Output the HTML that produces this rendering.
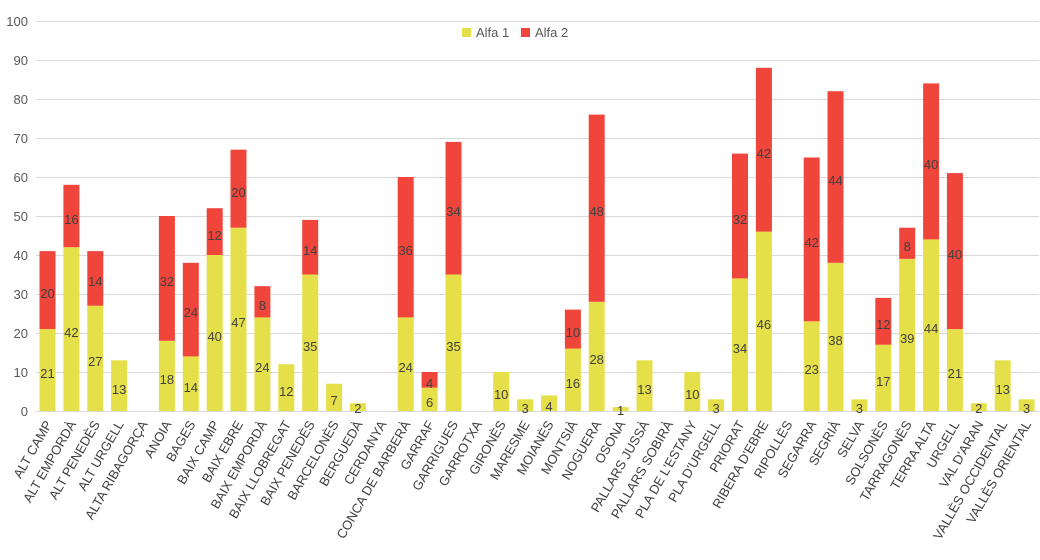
<!DOCTYPE html>
<html><head><meta charset="utf-8"><style>
html,body{margin:0;padding:0;background:#fff}
svg{display:block;font-family:"Liberation Sans",sans-serif}
.y{fill:#e5e04a}.r{fill:#f0453a}
.v{font-size:13px;fill:#404040;text-anchor:middle}
.c{font-size:13px;fill:#404040;text-anchor:end}
.t{font-size:13px;fill:#595959;text-anchor:end}
</style></head><body>
<svg width="1040" height="560" viewBox="0 0 1040 560">
<g stroke="#d9d9d9" stroke-width="1">
<line x1="36" x2="1039" y1="21.5" y2="21.5"/><line x1="36" x2="1039" y1="60.5" y2="60.5"/><line x1="36" x2="1039" y1="99.5" y2="99.5"/><line x1="36" x2="1039" y1="138.5" y2="138.5"/><line x1="36" x2="1039" y1="177.5" y2="177.5"/><line x1="36" x2="1039" y1="216.5" y2="216.5"/><line x1="36" x2="1039" y1="255.5" y2="255.5"/><line x1="36" x2="1039" y1="294.5" y2="294.5"/><line x1="36" x2="1039" y1="333.5" y2="333.5"/><line x1="36" x2="1039" y1="372.5" y2="372.5"/><line x1="36" x2="1039" y1="411.5" y2="411.5"/>
</g>
<g class="t">
<text x="28" y="26">100</text><text x="28" y="65">90</text><text x="28" y="104">80</text><text x="28" y="143">70</text><text x="28" y="182">60</text><text x="28" y="221">50</text><text x="28" y="260">40</text><text x="28" y="299">30</text><text x="28" y="338">20</text><text x="28" y="377">10</text><text x="28" y="416">0</text>
</g>
<rect class="y" x="462" y="28" width="9" height="9"/><text x="476" y="37" font-size="13" fill="#595959">Alfa 1</text>
<rect class="r" x="521" y="28" width="9" height="9"/><text x="535" y="37" font-size="13" fill="#595959">Alfa 2</text>
<g>
<rect class="y" x="39.5" y="329.1" width="16" height="81.9"/><rect class="r" x="39.5" y="251.1" width="16" height="78"/>
<rect class="y" x="63.4" y="247.2" width="16" height="163.8"/><rect class="r" x="63.4" y="184.8" width="16" height="62.4"/>
<rect class="y" x="87.3" y="305.7" width="16" height="105.3"/><rect class="r" x="87.3" y="251.1" width="16" height="54.6"/>
<rect class="y" x="111.1" y="360.3" width="16" height="50.7"/>
<rect class="y" x="158.9" y="340.8" width="16" height="70.2"/><rect class="r" x="158.9" y="216" width="16" height="124.8"/>
<rect class="y" x="182.8" y="356.4" width="16" height="54.6"/><rect class="r" x="182.8" y="262.8" width="16" height="93.6"/>
<rect class="y" x="206.7" y="255" width="16" height="156"/><rect class="r" x="206.7" y="208.2" width="16" height="46.8"/>
<rect class="y" x="230.5" y="227.7" width="16" height="183.3"/><rect class="r" x="230.5" y="149.7" width="16" height="78"/>
<rect class="y" x="254.4" y="317.4" width="16" height="93.6"/><rect class="r" x="254.4" y="286.2" width="16" height="31.2"/>
<rect class="y" x="278.3" y="364.2" width="16" height="46.8"/>
<rect class="y" x="302.2" y="274.5" width="16" height="136.5"/><rect class="r" x="302.2" y="219.9" width="16" height="54.6"/>
<rect class="y" x="326.1" y="383.7" width="16" height="27.3"/>
<rect class="y" x="349.9" y="403.2" width="16" height="7.8"/>
<rect class="y" x="397.7" y="317.4" width="16" height="93.6"/><rect class="r" x="397.7" y="177" width="16" height="140.4"/>
<rect class="y" x="421.6" y="387.6" width="16" height="23.4"/><rect class="r" x="421.6" y="372" width="16" height="15.6"/>
<rect class="y" x="445.5" y="274.5" width="16" height="136.5"/><rect class="r" x="445.5" y="141.9" width="16" height="132.6"/>
<rect class="y" x="493.2" y="372" width="16" height="39"/>
<rect class="y" x="517.1" y="399.3" width="16" height="11.7"/>
<rect class="y" x="541" y="395.4" width="16" height="15.6"/>
<rect class="y" x="564.9" y="348.6" width="16" height="62.4"/><rect class="r" x="564.9" y="309.6" width="16" height="39"/>
<rect class="y" x="588.7" y="301.8" width="16" height="109.2"/><rect class="r" x="588.7" y="114.6" width="16" height="187.2"/>
<rect class="y" x="612.6" y="407.1" width="16" height="3.9"/>
<rect class="y" x="636.5" y="360.3" width="16" height="50.7"/>
<rect class="y" x="684.3" y="372" width="16" height="39"/>
<rect class="y" x="708.1" y="399.3" width="16" height="11.7"/>
<rect class="y" x="732" y="278.4" width="16" height="132.6"/><rect class="r" x="732" y="153.6" width="16" height="124.8"/>
<rect class="y" x="755.9" y="231.6" width="16" height="179.4"/><rect class="r" x="755.9" y="67.8" width="16" height="163.8"/>
<rect class="y" x="803.7" y="321.3" width="16" height="89.7"/><rect class="r" x="803.7" y="157.5" width="16" height="163.8"/>
<rect class="y" x="827.5" y="262.8" width="16" height="148.2"/><rect class="r" x="827.5" y="91.2" width="16" height="171.6"/>
<rect class="y" x="851.4" y="399.3" width="16" height="11.7"/>
<rect class="y" x="875.3" y="344.7" width="16" height="66.3"/><rect class="r" x="875.3" y="297.9" width="16" height="46.8"/>
<rect class="y" x="899.2" y="258.9" width="16" height="152.1"/><rect class="r" x="899.2" y="227.7" width="16" height="31.2"/>
<rect class="y" x="923.1" y="239.4" width="16" height="171.6"/><rect class="r" x="923.1" y="83.4" width="16" height="156"/>
<rect class="y" x="946.9" y="329.1" width="16" height="81.9"/><rect class="r" x="946.9" y="173.1" width="16" height="156"/>
<rect class="y" x="970.8" y="403.2" width="16" height="7.8"/>
<rect class="y" x="994.7" y="360.3" width="16" height="50.7"/>
<rect class="y" x="1018.6" y="399.3" width="16" height="11.7"/>
</g>
<g class="v">
<text x="47.5" y="378">21</text><text x="47.5" y="298">20</text>
<text x="71.4" y="337">42</text><text x="71.4" y="224">16</text>
<text x="95.3" y="366">27</text><text x="95.3" y="286">14</text>
<text x="119.1" y="394">13</text>
<text x="166.9" y="384">18</text><text x="166.9" y="286">32</text>
<text x="190.8" y="392">14</text><text x="190.8" y="317">24</text>
<text x="214.7" y="341">40</text><text x="214.7" y="240">12</text>
<text x="238.5" y="327">47</text><text x="238.5" y="197">20</text>
<text x="262.4" y="372">24</text><text x="262.4" y="310">8</text>
<text x="286.3" y="396">12</text>
<text x="310.2" y="351">35</text><text x="310.2" y="255">14</text>
<text x="334.1" y="405">7</text>
<text x="357.9" y="413">2</text>
<text x="405.7" y="372">24</text><text x="405.7" y="255">36</text>
<text x="429.6" y="407">6</text><text x="429.6" y="388">4</text>
<text x="453.5" y="351">35</text><text x="453.5" y="216">34</text>
<text x="501.2" y="399">10</text>
<text x="525.1" y="413">3</text>
<text x="549" y="411">4</text>
<text x="572.9" y="388">16</text><text x="572.9" y="337">10</text>
<text x="596.7" y="364">28</text><text x="596.7" y="216">48</text>
<text x="620.6" y="415">1</text>
<text x="644.5" y="394">13</text>
<text x="692.3" y="399">10</text>
<text x="716.1" y="413">3</text>
<text x="740" y="353">34</text><text x="740" y="224">32</text>
<text x="763.9" y="329">46</text><text x="763.9" y="158">42</text>
<text x="811.7" y="374">23</text><text x="811.7" y="247">42</text>
<text x="835.5" y="345">38</text><text x="835.5" y="185">44</text>
<text x="859.4" y="413">3</text>
<text x="883.3" y="386">17</text><text x="883.3" y="329">12</text>
<text x="907.2" y="343">39</text><text x="907.2" y="251">8</text>
<text x="931.1" y="333">44</text><text x="931.1" y="169">40</text>
<text x="954.9" y="378">21</text><text x="954.9" y="259">40</text>
<text x="978.8" y="413">2</text>
<text x="1002.7" y="394">13</text>
<text x="1026.6" y="413">3</text>
</g>
<g class="c">
<text transform="translate(52.5,424) rotate(-60)">ALT CAMP</text>
<text transform="translate(76.4,424) rotate(-60)">ALT EMPORDÀ</text>
<text transform="translate(100.3,424) rotate(-60)">ALT PENEDÈS</text>
<text transform="translate(124.1,424) rotate(-60)">ALT URGELL</text>
<text transform="translate(148,424) rotate(-60)">ALTA RIBAGORÇA</text>
<text transform="translate(171.9,424) rotate(-60)">ANOIA</text>
<text transform="translate(195.8,424) rotate(-60)">BAGES</text>
<text transform="translate(219.7,424) rotate(-60)">BAIX CAMP</text>
<text transform="translate(243.5,424) rotate(-60)">BAIX EBRE</text>
<text transform="translate(267.4,424) rotate(-60)">BAIX EMPORDÀ</text>
<text transform="translate(291.3,424) rotate(-60)">BAIX LLOBREGAT</text>
<text transform="translate(315.2,424) rotate(-60)">BAIX PENEDÈS</text>
<text transform="translate(339.1,424) rotate(-60)">BARCELONÈS</text>
<text transform="translate(362.9,424) rotate(-60)">BERGUEDÀ</text>
<text transform="translate(386.8,424) rotate(-60)">CERDANYA</text>
<text transform="translate(410.7,424) rotate(-60)">CONCA DE BARBERÀ</text>
<text transform="translate(434.6,424) rotate(-60)">GARRAF</text>
<text transform="translate(458.5,424) rotate(-60)">GARRIGUES</text>
<text transform="translate(482.3,424) rotate(-60)">GARROTXA</text>
<text transform="translate(506.2,424) rotate(-60)">GIRONÈS</text>
<text transform="translate(530.1,424) rotate(-60)">MARESME</text>
<text transform="translate(554,424) rotate(-60)">MOIANÈS</text>
<text transform="translate(577.9,424) rotate(-60)">MONTSIÀ</text>
<text transform="translate(601.7,424) rotate(-60)">NOGUERA</text>
<text transform="translate(625.6,424) rotate(-60)">OSONA</text>
<text transform="translate(649.5,424) rotate(-60)">PALLARS JUSSÀ</text>
<text transform="translate(673.4,424) rotate(-60)">PALLARS SOBIRÀ</text>
<text transform="translate(697.3,424) rotate(-60)">PLA DE L'ESTANY</text>
<text transform="translate(721.1,424) rotate(-60)">PLA D'URGELL</text>
<text transform="translate(745,424) rotate(-60)">PRIORAT</text>
<text transform="translate(768.9,424) rotate(-60)">RIBERA D'EBRE</text>
<text transform="translate(792.8,424) rotate(-60)">RIPOLLÈS</text>
<text transform="translate(816.7,424) rotate(-60)">SEGARRA</text>
<text transform="translate(840.5,424) rotate(-60)">SEGRIÀ</text>
<text transform="translate(864.4,424) rotate(-60)">SELVA</text>
<text transform="translate(888.3,424) rotate(-60)">SOLSONÈS</text>
<text transform="translate(912.2,424) rotate(-60)">TARRAGONÈS</text>
<text transform="translate(936.1,424) rotate(-60)">TERRA ALTA</text>
<text transform="translate(959.9,424) rotate(-60)">URGELL</text>
<text transform="translate(983.8,424) rotate(-60)">VAL D'ARAN</text>
<text transform="translate(1007.7,424) rotate(-60)">VALLÈS OCCIDENTAL</text>
<text transform="translate(1031.6,424) rotate(-60)">VALLÈS ORIENTAL</text>
</g>
</svg>
</body></html>
